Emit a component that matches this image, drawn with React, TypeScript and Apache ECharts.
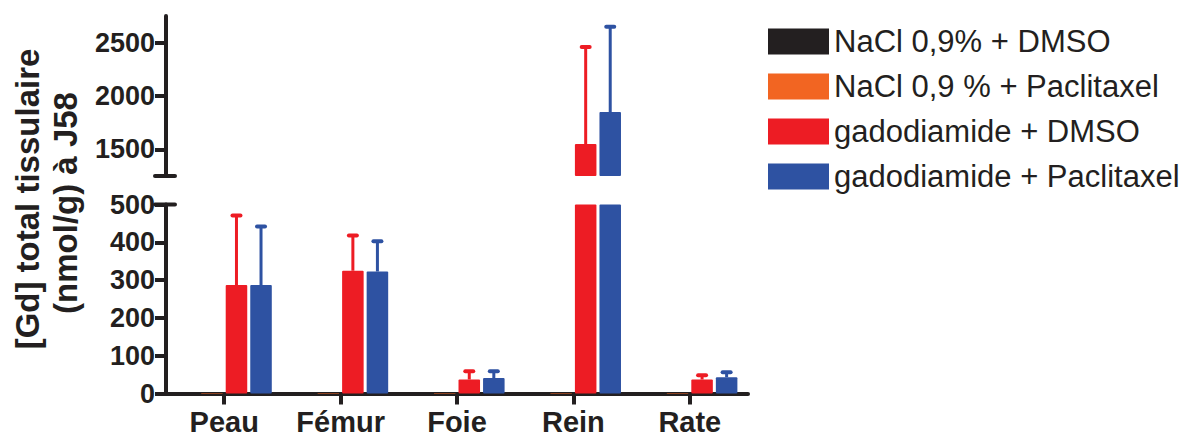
import React, { useEffect, useRef } from 'react';
import * as echarts from 'echarts';

const categories = ['Peau', 'Fémur', 'Foie', 'Rein', 'Rate'];
const seriesNames = [
  'NaCl 0,9% + DMSO',
  'NaCl 0,9 % + Paclitaxel',
  'gadodiamide + DMSO',
  'gadodiamide + Paclitaxel',
];
const naclDmso = [1, 1, 1, 1, 1];
const naclPacli = [1, 1, 1, 1, 1];
const gadoDmso = [287, 325, 37, 1550, 37];
const gadoPacli = [287, 323, 41, 1850, 43];
const naclDmsoErr = [0, 0, 0, 0, 0];
const naclPacliErr = [0, 0, 0, 0, 0];
const gadoDmsoErr = [184, 93, 22, 910, 11];
const gadoPacliErr = [155, 80, 18, 800, 13];
const lowerTicks = [0, 100, 200, 300, 400, 500];
const upperTicks = [1500, 2000, 2500];
const lowerRange = [0, 500];
const upperRange = [1250, 2750];
const yTitle1 = '[Gd] total tissulaire';
const yTitle2 = '(nmol/g) à J58';

const colors = ['#231f20', '#f26522', '#ed1c24', '#2e52a2'];
const ink = '#231f20';
const FONT = '"Liberation Sans", Arial, Helvetica, sans-serif';

const values = [naclDmso, naclPacli, gadoDmso, gadoPacli];
const errors = [naclDmsoErr, naclPacliErr, gadoDmsoErr, gadoPacliErr];

const BAR_FRAC = 0.185; // bar width as fraction of band
const GAP_FRAC = 0.14; // gap as fraction of bar width

function errRenderer(seriesIdx: number, color: string) {
  return (params: any, api: any) => {
    const ci = api.value(0);
    const m = api.value(1);
    const e = api.value(2);
    const band = api.size([1, 0])[0];
    const step = band * BAR_FRAC * (1 + GAP_FRAC);
    const off = (seriesIdx - 1.5) * step;
    const p0 = api.coord([ci, m]);
    const p1 = api.coord([ci, m + e]);
    const x = p0[0] + off;
    return {
      type: 'group',
      children: [
        {
          type: 'line',
          shape: { x1: x, y1: p0[1], x2: x, y2: p1[1] },
          style: { stroke: color, lineWidth: 3 },
        },
        {
          type: 'line',
          shape: { x1: x - 4, y1: p1[1], x2: x + 4, y2: p1[1] },
          style: { stroke: color, lineWidth: 4, lineCap: 'round' },
        },
      ],
    };
  };
}

function capRenderer(params: any, api: any) {
  const v = api.value(1);
  const y = api.coord([0, v])[1];
  const x = params.coordSys.x;
  return {
    type: 'line',
    shape: { x1: x - 11, y1: y, x2: x + 9, y2: y },
    style: { stroke: ink, lineWidth: 4, lineCap: 'round' },
  };
}

export default function App() {
  const ref = useRef<HTMLDivElement>(null);
  useEffect(() => {
    if (!ref.current) return;
    const chart = echarts.init(ref.current, null, { renderer: 'svg' });
    const series: any[] = [];
    for (let s = 0; s < 4; s++) {
      const base = {
        type: 'bar',
        name: seriesNames[s],
        barWidth: (BAR_FRAC * 100).toFixed(1) + '%',
        barGap: (GAP_FRAC * 100).toFixed(0) + '%',
        itemStyle: { color: colors[s], borderRadius: 1 },
        clip: true,
      };
      series.push({
        ...base,
        xAxisIndex: 0,
        yAxisIndex: 0,
        data: values[s].map((v) => (v > upperRange[0] ? v : '-')),
      });
      series.push({
        ...base,
        xAxisIndex: 1,
        yAxisIndex: 1,
        data: values[s].slice(),
      });
    }
    for (let s = 0; s < 4; s++) {
      const up: any[] = [];
      const low: any[] = [];
      values[s].forEach((v, i) => {
        const e = errors[s][i];
        if (!e) return;
        if (v > upperRange[0]) up.push([i, v, e]);
        else if (v + e <= lowerRange[1]) low.push([i, v, e]);
      });
      series.push({
        type: 'custom',
        name: 'err-up-' + s,
        xAxisIndex: 0,
        yAxisIndex: 0,
        renderItem: errRenderer(s, colors[s]),
        encode: { x: 0, y: 1 },
        data: up,
        clip: true,
        z: 3,
      });
      series.push({
        type: 'custom',
        name: 'err-low-' + s,
        xAxisIndex: 1,
        yAxisIndex: 1,
        renderItem: errRenderer(s, colors[s]),
        encode: { x: 0, y: 1 },
        data: low,
        clip: true,
        z: 3,
      });
    }
    series.push({
      type: 'custom',
      name: 'cap-up',
      xAxisIndex: 0,
      yAxisIndex: 0,
      renderItem: capRenderer,
      encode: { x: 0, y: 1 },
      data: [[0, upperRange[0]]],
      clip: false,
      z: 5,
    });
    series.push({
      type: 'custom',
      name: 'cap-low',
      xAxisIndex: 1,
      yAxisIndex: 1,
      renderItem: capRenderer,
      encode: { x: 0, y: 1 },
      data: [[0, lowerRange[1]]],
      clip: false,
      z: 5,
    });

    const yLabelStyle = {
      fontFamily: FONT,
      fontWeight: 'bold',
      fontSize: 27,
      color: ink,
      formatter: (v: number) => String(v),
    };

    chart.setOption({
      animation: false,
      backgroundColor: '#ffffff',
      textStyle: { fontFamily: FONT },
      legend: {
        data: seriesNames,
        orient: 'vertical',
        left: 768,
        top: 26,
        padding: 0,
        itemWidth: 61,
        itemHeight: 26,
        itemGap: 14,
        icon: 'rect',
        selectedMode: false,
        textStyle: {
          fontFamily: FONT,
          fontSize: 31,
          color: ink,
        },
      },
      grid: [
        { left: 166, width: 582, top: 16, height: 160 },
        { left: 166, width: 582, top: 204.5, height: 189 },
      ],
      xAxis: [
        {
          gridIndex: 0,
          type: 'category',
          data: categories,
          show: false,
        },
        {
          gridIndex: 1,
          type: 'category',
          data: categories,
          axisLine: { show: true, lineStyle: { color: ink, width: 4 } },
          axisTick: {
            show: true,
            alignWithLabel: true,
            length: 11,
            lineStyle: { color: ink, width: 4 },
          },
          axisLabel: {
            fontFamily: FONT,
            fontWeight: 'bold',
            fontSize: 29,
            color: ink,
            margin: 14,
          },
        },
      ],
      yAxis: [
        {
          gridIndex: 0,
          type: 'value',
          min: upperRange[0],
          max: upperRange[1],
          axisLine: { show: true, lineStyle: { color: ink, width: 4 } },
          axisTick: {
            show: true,
            length: 11,
            customValues: upperTicks,
            lineStyle: { color: ink, width: 4 },
          },
          axisLabel: { ...yLabelStyle, margin: 11, customValues: upperTicks },
          splitLine: { show: false },
        },
        {
          gridIndex: 1,
          type: 'value',
          min: lowerRange[0],
          max: lowerRange[1],
          interval: 100,
          axisLine: { show: true, lineStyle: { color: ink, width: 4 } },
          axisTick: {
            show: true,
            length: 11,
            customValues: lowerTicks,
            lineStyle: { color: ink, width: 4 },
          },
          axisLabel: { ...yLabelStyle, margin: 11, customValues: lowerTicks },
          splitLine: { show: false },
        },
      ],
      graphic: [
        {
          type: 'text',
          x: 27,
          y: 199,
          rotation: Math.PI / 2,
          style: {
            text: yTitle1,
            font: 'bold 33px ' + FONT,
            fill: ink,
            textAlign: 'center',
            textVerticalAlign: 'middle',
            align: 'center',
            verticalAlign: 'middle',
          },
        },
        {
          type: 'text',
          x: 65,
          y: 203,
          rotation: Math.PI / 2,
          style: {
            text: yTitle2,
            font: 'bold 33px ' + FONT,
            fill: ink,
            textAlign: 'center',
            textVerticalAlign: 'middle',
            align: 'center',
            verticalAlign: 'middle',
          },
        },
      ],
      series,
    });
    return () => chart.dispose();
  }, []);
  return (
    <div
      ref={ref}
      style={{ position: 'absolute', left: 0, top: 0, width: 1186, height: 437 }}
    />
  );
}
